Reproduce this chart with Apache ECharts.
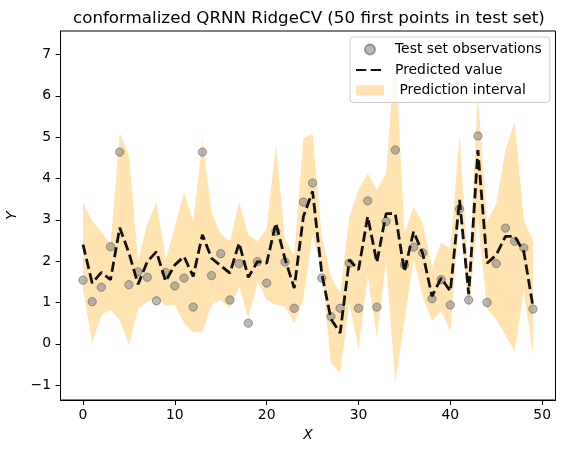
<!DOCTYPE html>
<html>
<head>
<meta charset="utf-8">
<script src="https://cdn.jsdelivr.net/npm/echarts@6/dist/echarts.min.js"></script>
<style>
html,body{margin:0;padding:0;background:#fff;}
#chart{width:565px;height:453px;}
</style>
</head>
<body>
<div id="chart"></div>
<script>
var xValues = [0,1,2,3,4,5,6,7,8,9,10,11,12,13,14,15,16,17,18,19,20,21,22,23,24,25,26,27,28,29,30,31,32,33,34,35,36,37,38,39,40,41,42,43,44,45,46,47,48,49];
var observed = [1.54,1.02,1.37,2.35,4.64,1.43,1.74,1.61,1.04,1.73,1.40,1.59,0.89,4.64,1.65,2.18,1.06,1.94,0.50,1.99,1.47,2.72,1.98,0.86,3.43,3.89,1.59,0.66,0.86,1.95,0.86,3.46,0.89,2.96,4.69,1.91,2.34,2.20,1.09,1.55,0.94,3.26,1.06,5.03,1.00,1.94,2.80,2.48,2.32,0.84];
var predicted = [2.40,1.47,1.73,1.55,2.81,2.20,1.44,1.99,2.23,1.51,1.91,2.11,1.63,2.64,2.07,1.89,1.71,2.44,1.61,1.99,1.95,2.92,2.05,1.35,3.08,3.69,1.70,0.60,0.26,2.03,1.79,3.08,1.97,3.15,3.15,1.75,2.72,2.18,1.15,1.59,1.27,3.48,1.20,4.69,1.95,2.15,2.60,2.60,2.23,0.90];
var upper = [3.43,2.96,2.72,2.40,5.10,4.56,2.03,2.92,3.43,2.03,2.84,3.67,2.96,4.94,3.17,2.66,2.48,3.44,2.64,2.48,2.80,4.82,2.52,2.15,4.98,5.08,2.60,1.63,1.23,3.08,3.73,4.13,3.73,4.13,7.16,2.68,3.32,2.92,1.85,2.46,2.30,5.04,1.60,6.07,2.96,3.40,4.69,5.38,3.00,2.48];
var lower = [1.31,0.02,0.70,0.82,0.58,-0.02,0.85,1.02,1.10,0.92,0.94,0.50,0.28,0.28,0.94,1.06,0.86,1.39,0.62,1.51,1.06,0.94,0.90,0.50,1.10,2.64,1.79,-0.47,-0.71,0.98,-0.15,1.65,0.14,2.00,-0.95,0.55,2.05,1.14,0.56,0.80,0.30,3.15,0.78,3.00,0.85,0.58,0.22,-0.19,1.31,-0.27];
var xTicks = [0,10,20,30,40,50];
var yTicks = [-1,0,1,2,3,4,5,6,7];

var FONT = 'DejaVu Sans';
var chart = echarts.init(document.getElementById('chart'), null, {renderer:'canvas'});

var obsData = xValues.map(function(x,i){return [x, observed[i]];});
var predData = xValues.map(function(x,i){return [x, predicted[i]];});

var option = {
  animation: false,
  backgroundColor: '#fff',
  title: {
    text: 'conformalized QRNN RidgeCV (50 first points in test set)',
    left: 68, top: 5,
    textStyle: {fontFamily: FONT, fontSize: 16.7, fontWeight: 'normal', color: '#000'}
  },
  legend: {
    orient: 'vertical',
    left: 350, top: 37,
    padding: [5.5, 8, 5, 5],
    itemWidth: 28, itemHeight: 10, itemGap: 6.5,
    backgroundColor: 'rgba(255,255,255,0.8)',
    borderColor: '#cccccc', borderWidth: 1, borderRadius: 3,
    textStyle: {fontFamily: FONT, fontSize: 13.9, color: '#000', padding: [0,0,0,6]},
    data: [
      {name: 'Test set observations', icon: 'circle'},
      {name: 'Predicted value', itemStyle: {opacity: 0}},
      {name: ' Prediction interval', icon: 'rect'}
    ]
  },
  grid: {
    left: 60.5, right: 9.5, top: 31, bottom: 53,
    outerBoundsMode: 'none', containLabel: false,
    show: true, borderColor: '#000', borderWidth: 1, backgroundColor: 'transparent'
  },
  xAxis: {
    type: 'value', min: -2.45, max: 51.45,
    name: 'X', nameLocation: 'middle', nameGap: 28,
    nameTextStyle: {fontFamily: FONT, fontSize: 13.9, fontStyle: 'italic', color: '#000'},
    axisLine: {show: true, onZero: false, lineStyle: {color: '#000', width: 1}},
    axisTick: {show: true, length: 4.9, lineStyle: {color: '#000'}, customValues: xTicks},
    axisLabel: {fontFamily: FONT, fontSize: 13.9, color: '#000', margin: 8, customValues: xTicks},
    splitLine: {show: false}
  },
  yAxis: {
    type: 'value', min: -1.36, max: 7.57,
    name: 'Y', nameLocation: 'middle', nameGap: 38.5, nameRotate: 90,
    nameTextStyle: {fontFamily: FONT, fontSize: 13.9, fontStyle: 'italic', color: '#000'},
    axisLine: {show: true, onZero: false, lineStyle: {color: '#000', width: 1}},
    axisTick: {show: true, length: 4.9, lineStyle: {color: '#000'}, customValues: yTicks},
    axisLabel: {fontFamily: FONT, fontSize: 13.9, color: '#000', margin: 9.5, customValues: yTicks,
      formatter: function(v){ return v < 0 ? '\u2212' + Math.abs(v) : String(v); }},
    splitLine: {show: false}
  },
  series: [
    {
      name: ' Prediction interval',
      type: 'custom',
      itemStyle: {color: 'rgba(255,165,0,0.3)'},
      z: 1,
      data: [0],
      renderItem: function(params, api){
        var pts = [];
        for (var i = 0; i < xValues.length; i++) pts.push(api.coord([xValues[i], upper[i]]));
        for (var j = xValues.length - 1; j >= 0; j--) pts.push(api.coord([xValues[j], lower[j]]));
        return {type: 'polygon', shape: {points: pts}, style: {fill: 'rgba(255,165,0,0.3)', stroke: 'none'}};
      }
    },
    {
      name: 'Test set observations',
      type: 'scatter',
      data: obsData,
      symbolSize: 8.3,
      z: 2,
      itemStyle: {color: 'rgba(128,128,128,0.68)', borderColor: 'rgba(85,85,85,0.68)', borderWidth: 1}
    },
    {
      name: 'Predicted value',
      type: 'line',
      data: predData,
      symbol: 'none', showSymbol: false,
      z: 3,
      itemStyle: {color: '#111'},
      lineStyle: {color: '#111', width: 2.78, type: [10.3, 4.4]}
    }
  ]
};
chart.setOption(option);
</script>
</body>
</html>
